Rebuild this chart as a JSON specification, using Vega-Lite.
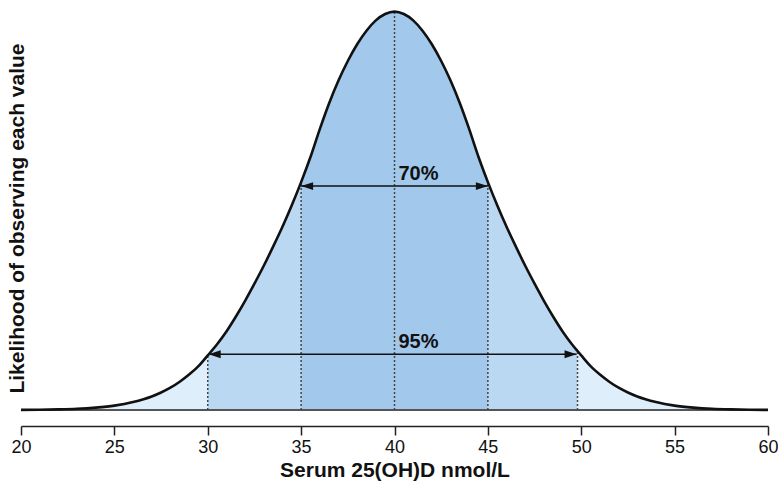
{
  "$schema": "https://vega.github.io/schema/vega-lite/v6.json",
  "width": 747,
  "height": 400,
  "autosize": "none",
  "padding": {"left": 21, "top": 10, "right": 10, "bottom": 86},
  "background": "white",
  "config": {"view": {"stroke": null}, "font": "Liberation Sans", "axis": {"grid": false}},
  "datasets": {
    "curve": [
      {"x": 20, "y": 0.0003}, {"x": 21, "y": 0.0007}, {"x": 22, "y": 0.0015}, {"x": 23, "y": 0.003}, {"x": 24, "y": 0.006},
      {"x": 25, "y": 0.011}, {"x": 26, "y": 0.02}, {"x": 27, "y": 0.034}, {"x": 27.5, "y": 0.044}, {"x": 28, "y": 0.056},
      {"x": 28.5, "y": 0.071}, {"x": 29, "y": 0.089}, {"x": 29.5, "y": 0.11}, {"x": 30, "y": 0.137}, {"x": 30.5, "y": 0.165},
      {"x": 31, "y": 0.197}, {"x": 31.5, "y": 0.234}, {"x": 32, "y": 0.274}, {"x": 32.5, "y": 0.317}, {"x": 33, "y": 0.362},
      {"x": 33.5, "y": 0.41}, {"x": 34, "y": 0.46}, {"x": 34.5, "y": 0.514}, {"x": 35, "y": 0.572}, {"x": 35.5, "y": 0.635},
      {"x": 36, "y": 0.705}, {"x": 36.5, "y": 0.77}, {"x": 37, "y": 0.827}, {"x": 37.5, "y": 0.876}, {"x": 38, "y": 0.918},
      {"x": 38.5, "y": 0.952}, {"x": 39, "y": 0.978}, {"x": 39.5, "y": 0.994}, {"x": 40, "y": 1.0},
      {"x": 40.5, "y": 0.994}, {"x": 41, "y": 0.978}, {"x": 41.5, "y": 0.952}, {"x": 42, "y": 0.918}, {"x": 42.5, "y": 0.876},
      {"x": 43, "y": 0.827}, {"x": 43.5, "y": 0.77}, {"x": 44, "y": 0.705}, {"x": 44.5, "y": 0.635}, {"x": 45, "y": 0.572},
      {"x": 45.5, "y": 0.514}, {"x": 46, "y": 0.46}, {"x": 46.5, "y": 0.41}, {"x": 47, "y": 0.362}, {"x": 47.5, "y": 0.317},
      {"x": 48, "y": 0.274}, {"x": 48.5, "y": 0.234}, {"x": 49, "y": 0.197}, {"x": 49.5, "y": 0.165}, {"x": 49.8, "y": 0.148},
      {"x": 50, "y": 0.137}, {"x": 50.5, "y": 0.11}, {"x": 51, "y": 0.089}, {"x": 51.5, "y": 0.071}, {"x": 52, "y": 0.056},
      {"x": 52.5, "y": 0.044}, {"x": 53, "y": 0.034}, {"x": 54, "y": 0.02}, {"x": 55, "y": 0.011}, {"x": 56, "y": 0.006},
      {"x": 57, "y": 0.003}, {"x": 58, "y": 0.0015}, {"x": 59, "y": 0.0007}, {"x": 60, "y": 0.0003}
    ],
    "dotted": [
      {"x": 30, "y": 0, "top": 0.137},
      {"x": 35, "y": 0, "top": 0.572},
      {"x": 40, "y": 0, "top": 1.0},
      {"x": 45, "y": 0, "top": 0.572},
      {"x": 49.8, "y": 0, "top": 0.148}
    ],
    "baseline": [{"x": 20, "x2": 60, "y": 0}],
    "arrows": [
      {"x": 35, "x2": 45, "y": 0.562, "label": "70%"},
      {"x": 30.05, "x2": 49.75, "y": 0.14, "label": "95%"}
    ],
    "heads": [
      {"x": 35, "y": 0.562, "dir": "L"},
      {"x": 45, "y": 0.562, "dir": "R"},
      {"x": 30.05, "y": 0.14, "dir": "L"},
      {"x": 49.75, "y": 0.14, "dir": "R"}
    ],
    "labels": [
      {"x": 40, "y": 0.562, "label": "70%"},
      {"x": 40, "y": 0.14, "label": "95%"}
    ]
  },
  "data": {"name": "curve"},
  "encoding": {
    "x": {
      "field": "x", "type": "quantitative",
      "scale": {"domain": [20, 60], "nice": false, "zero": false},
      "axis": {
        "values": [20, 25, 30, 35, 40, 45, 50, 55, 60],
        "offset": 16,
        "domainColor": "#222", "domainWidth": 1.5,
        "tickColor": "#222", "tickWidth": 1.5, "tickSize": 9,
        "labelFontSize": 18, "labelColor": "#111", "labelPadding": 3, "labelFlush": false,
        "title": "Serum 25(OH)D nmol/L", "titleFontSize": 21, "titleFontWeight": "bold",
        "titleColor": "#111", "titlePadding": 3
      }
    },
    "y": {
      "field": "y", "type": "quantitative",
      "scale": {"domain": [0, 1.004], "nice": false, "zero": true},
      "axis": {
        "domain": false, "ticks": false, "labels": false,
        "title": "Likelihood of observing each value", "titleFontSize": 21, "titleFontWeight": "bold",
        "titleColor": "#111", "titleX": 6, "titleY": 208, "titleAngle": -90, "titleAlign": "center", "titleBaseline": "bottom"
      }
    }
  },
  "layer": [
    {"transform": [{"filter": "datum.x <= 30"}], "mark": {"type": "area", "color": "#DEEEFA", "opacity": 1, "interpolate": "monotone"}},
    {"transform": [{"filter": "datum.x >= 30 && datum.x <= 35"}], "mark": {"type": "area", "color": "#BBD8F2", "opacity": 1, "interpolate": "monotone"}},
    {"transform": [{"filter": "datum.x >= 35 && datum.x <= 45"}], "mark": {"type": "area", "color": "#A2C8EC", "opacity": 1, "interpolate": "monotone"}},
    {"transform": [{"filter": "datum.x >= 45 && datum.x <= 49.8"}], "mark": {"type": "area", "color": "#BBD8F2", "opacity": 1, "interpolate": "monotone"}},
    {"transform": [{"filter": "datum.x >= 49.8"}], "mark": {"type": "area", "color": "#DEEEFA", "opacity": 1, "interpolate": "monotone"}},
    {
      "data": {"name": "baseline"},
      "mark": {"type": "rule", "color": "#555", "strokeWidth": 2},
      "encoding": {"x2": {"field": "x2"}}
    },
    {
      "data": {"name": "dotted"},
      "mark": {"type": "rule", "color": "#444", "strokeWidth": 1.5, "strokeDash": [2, 2]},
      "encoding": {"y2": {"field": "top"}}
    },
    {
      "data": {"name": "arrows"},
      "mark": {"type": "rule", "color": "#111", "strokeWidth": 1.5},
      "encoding": {"x2": {"field": "x2"}}
    },
    {
      "data": {"name": "heads"},
      "mark": {"type": "point", "filled": true, "color": "#111", "opacity": 1, "size": 576, "strokeWidth": 0},
      "encoding": {
        "shape": {
          "field": "dir", "type": "nominal",
          "scale": {"domain": ["L", "R"], "range": ["M0,0L1,-0.33L1,0.33Z", "M0,0L-1,-0.33L-1,0.33Z"]},
          "legend": null
        }
      }
    },
    {
      "mark": {"type": "line", "color": "#111", "strokeWidth": 2.6, "interpolate": "monotone"}
    },
    {
      "data": {"name": "labels"},
      "mark": {"type": "text", "align": "left", "baseline": "alphabetic", "dx": 4, "dy": -6, "fontSize": 20, "fontWeight": "bold", "color": "#111", "font": "Liberation Sans"},
      "encoding": {"text": {"field": "label"}}
    }
  ]
}
